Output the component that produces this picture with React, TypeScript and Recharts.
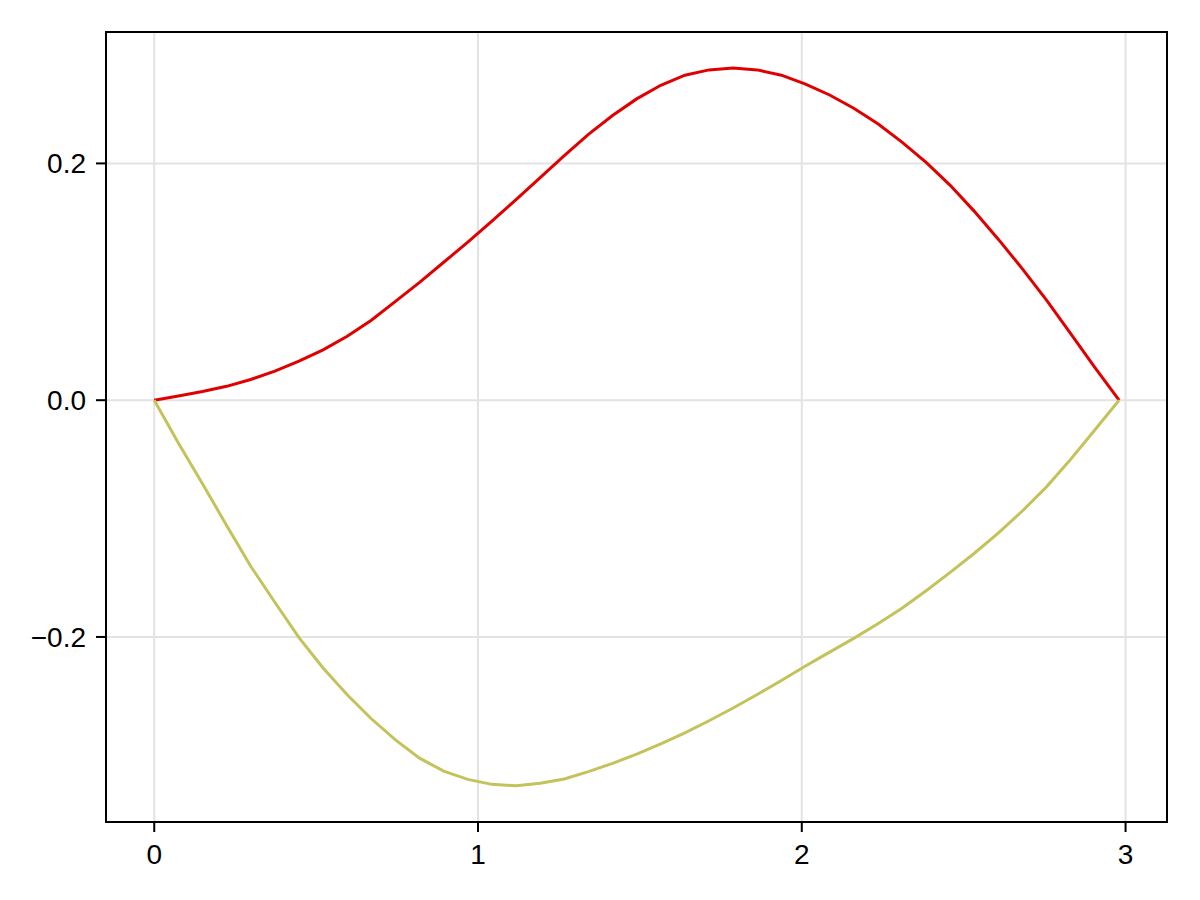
import {
  LineChart,
  Line,
  XAxis,
  YAxis,
  CartesianGrid,
  ReferenceArea,
} from "recharts";

// sample positions along x (41 points from 0 to 2.98)
const xValues = [
  0, 0.0745, 0.149, 0.2235, 0.298, 0.3725, 0.447, 0.5215, 0.596, 0.6705,
  0.745, 0.8195, 0.894, 0.9685, 1.043, 1.1175, 1.192, 1.2665, 1.341, 1.4155,
  1.49, 1.5645, 1.639, 1.7135, 1.788, 1.8625, 1.937, 2.0115, 2.086, 2.1605,
  2.235, 2.3095, 2.384, 2.4585, 2.533, 2.6075, 2.682, 2.7565, 2.831, 2.9055,
  2.98,
];

const redValues = [
  0, 0.0035, 0.0073, 0.0117, 0.0175, 0.0245, 0.033, 0.0425, 0.054, 0.0675,
  0.0835, 0.0995, 0.1165, 0.1335, 0.1512, 0.1695, 0.188, 0.2065, 0.2245,
  0.2405, 0.2545, 0.266, 0.2745, 0.279, 0.2806, 0.279, 0.2745, 0.267, 0.2578,
  0.2466, 0.2335, 0.218, 0.2008, 0.1815, 0.1595, 0.1358, 0.1107, 0.0843,
  0.056, 0.0275, 0,
];

const yellowValues = [
  0, -0.0362, -0.0705, -0.1058, -0.1403, -0.1707, -0.2006, -0.2262, -0.2488,
  -0.2691, -0.287, -0.3024, -0.3133, -0.3203, -0.3245, -0.3257, -0.3235, -0.32,
  -0.3137, -0.3068, -0.299, -0.2904, -0.281, -0.2708, -0.26, -0.2486, -0.2368,
  -0.2245, -0.2128, -0.2012, -0.1888, -0.1758, -0.1609, -0.1455, -0.1293,
  -0.1121, -0.0934, -0.073, -0.0498, -0.025, 0,
];

const xTicks = [0, 1, 2, 3];
const yTicks = [-0.2, 0, 0.2];
const xDomain: [number, number] = [-0.149, 3.128];
const yDomain: [number, number] = [-0.3563, 0.311];

const data = xValues.map((x, i) => ({
  x,
  red: redValues[i],
  yellow: yellowValues[i],
}));

const fmtY = (v: number) => {
  const s = Math.abs(v).toFixed(1);
  return v < 0 ? "\u2212" + s : s;
};

const tickStyle = { fontSize: 28, fill: "#000", fontFamily: "Liberation Sans, Arial, sans-serif" };

export default function App() {
  return (
    <div style={{ position: "absolute", left: 0, top: 0, width: 1200, height: 900, background: "#fff" }}>
      <LineChart
        width={1200}
        height={900}
        data={data}
        margin={{ top: 32, right: 33, left: 0, bottom: 0 }}
      >
        <CartesianGrid stroke="#e3e3e3" strokeWidth={2} />
        <XAxis
          dataKey="x"
          type="number"
          domain={xDomain}
          ticks={xTicks}
          allowDataOverflow
          height={78}
          tickSize={10}
          tickMargin={12}
          tick={tickStyle}
          tickLine={{ stroke: "#000", strokeWidth: 2 }}
          axisLine={{ stroke: "#000", strokeWidth: 2 }}
        />
        <YAxis
          type="number"
          domain={yDomain}
          ticks={yTicks}
          allowDataOverflow
          width={106}
          tickSize={10}
          tickMargin={10}
          tick={tickStyle}
          tickFormatter={fmtY}
          tickLine={{ stroke: "#000", strokeWidth: 2 }}
          axisLine={{ stroke: "#000", strokeWidth: 2 }}
        />
        <ReferenceArea
          x1={xDomain[0]}
          x2={xDomain[1]}
          y1={yDomain[0]}
          y2={yDomain[1]}
          fill="none"
          stroke="#000"
          strokeWidth={2}
        />
        <Line
          type="linear"
          dataKey="red"
          stroke="#e00000"
          strokeWidth={3}
          dot={false}
          isAnimationActive={false}
        />
        <Line
          type="linear"
          dataKey="yellow"
          stroke="#c4c25a"
          strokeWidth={3}
          dot={false}
          isAnimationActive={false}
        />
      </LineChart>
    </div>
  );
}
